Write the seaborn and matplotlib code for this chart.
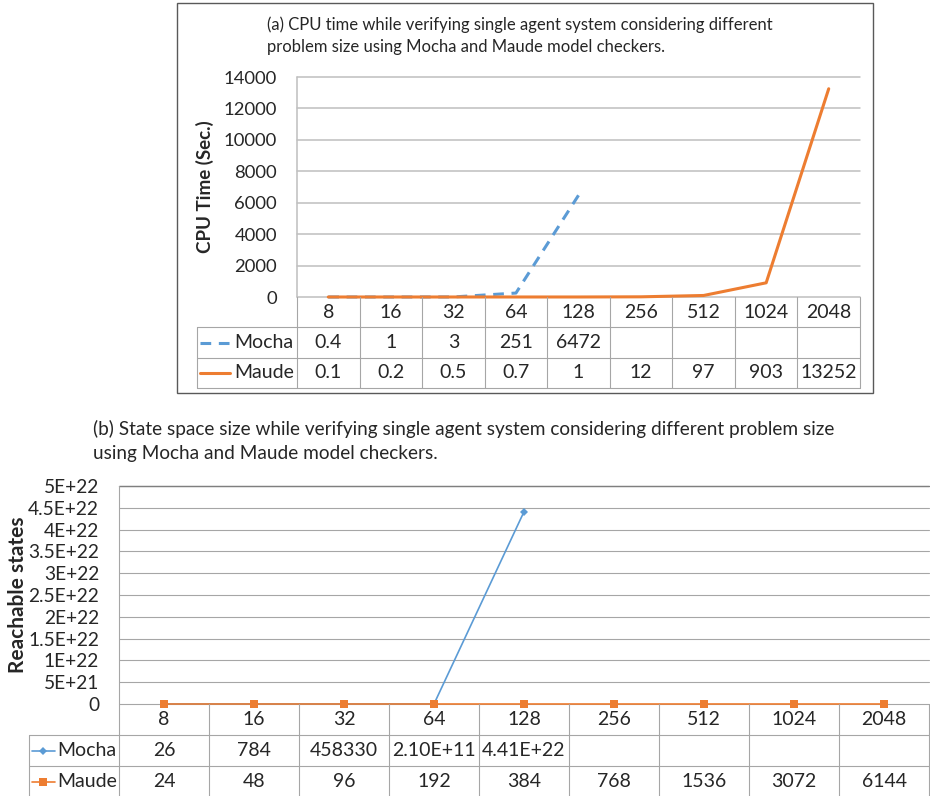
import matplotlib
matplotlib.use("Agg")
import matplotlib.pyplot as plt
from matplotlib.patches import Rectangle
import seaborn as sns

# problem sizes (shared by both panels)
sizes = ["8", "16", "32", "64", "128", "256", "512", "1024", "2048"]

# (a) CPU time in seconds
cpu_mocha = [0.4, 1, 3, 251, 6472]
cpu_maude = [0.1, 0.2, 0.5, 0.7, 1, 12, 97, 903, 13252]
cpu_mocha_text = ["0.4", "1", "3", "251", "6472"]
cpu_maude_text = ["0.1", "0.2", "0.5", "0.7", "1", "12", "97", "903", "13252"]
cpu_ticks = [0, 2000, 4000, 6000, 8000, 10000, 12000, 14000]

# (b) reachable states
states_mocha = [26, 784, 458330, 2.10e11, 4.41e22]
states_maude = [24, 48, 96, 192, 384, 768, 1536, 3072, 6144]
states_mocha_text = ["26", "784", "458330", "2.10E+11", "4.41E+22"]
states_maude_text = ["24", "48", "96", "192", "384", "768", "1536", "3072", "6144"]
state_ticks = [0, 5e21, 1e22, 1.5e22, 2e22, 2.5e22, 3e22, 3.5e22, 4e22, 4.5e22, 5e22]
state_tick_labels = ["0", "5E+21", "1E+22", "1.5E+22", "2E+22", "2.5E+22",
                     "3E+22", "3.5E+22", "4E+22", "4.5E+22", "5E+22"]

BLUE = "#5B9BD5"
ORANGE = "#ED7D31"
W, H = 930, 796

sns.set_style("white")
plt.rcParams["font.family"] = ["Lato", "DejaVu Sans"]

fig = plt.figure(figsize=(W / 100, H / 100), dpi=100)


def px_axes(left, top, right, bottom):
    """axes placed by pixel edges of the picture"""
    return fig.add_axes([left / W, 1 - bottom / H, (right - left) / W, (bottom - top) / H])


def px_text(x, y, s, **kw):
    fig.text(x / W, 1 - y / H, s, **kw)


def draw_table(ax, header_w, rows, fontsize, grid_color, name_frac, glyph):
    """Excel style data table under the chart, x in category units"""
    n = len(sizes)
    left = -0.5 - header_w
    ax.set_xlim(left, n - 0.5)
    ax.set_ylim(3, 0)
    ax.axis("off")
    kw = dict(color=grid_color, lw=0.8, clip_on=False)
    for y in (1, 2, 3):
        ax.plot([left, n - 0.5], [y, y], **kw)
    for k in range(n + 1):
        ax.plot([k - 0.5, k - 0.5], [0, 3], **kw)
    ax.plot([left, left], [1, 3], **kw)
    for i, s in enumerate(sizes):
        ax.text(i, 0.5, s, ha="center", va="center", fontsize=fontsize)
    for r, (name, texts, style, marker) in enumerate(rows):
        y = r + 1.5
        for i, s in enumerate(texts):
            ax.text(i, y, s, ha="center", va="center", fontsize=fontsize)
        x0 = left + glyph[0] * header_w
        x1 = left + glyph[1] * header_w
        ax.plot([x0, x1], [y, y], clip_on=False, **style)
        if marker:
            ax.plot([(x0 + x1) / 2], [y], clip_on=False, color=style["color"],
                    linestyle="none", markeredgewidth=0, **marker)
        ax.text(left + name_frac * header_w, y, name, ha="left", va="center",
                fontsize=fontsize)


# ---------------- panel (a) ----------------
fig.patches.append(Rectangle((177 / W, 1 - 393 / H), 696 / W, 390 / H,
                             transform=fig.transFigure, fill=False,
                             edgecolor="#595959", lw=1))
px_text(267, 25, "(a) CPU time while verifying single agent system considering different",
        fontsize=12, va="center")
px_text(267, 47, "problem size using Mocha and Maude model checkers.",
        fontsize=12, va="center")

ax1 = px_axes(297, 77, 860, 297)
for t in cpu_ticks:
    ax1.axhline(t, color="#BFBFBF", lw=1.1, clip_on=False, zorder=0)
ax1.axvline(-0.5, color="#BFBFBF", lw=1.1, clip_on=False, zorder=0)
sns.lineplot(x=list(range(len(cpu_mocha))), y=cpu_mocha, ax=ax1, color=BLUE,
             lw=2.2, linestyle=(0, (3.5, 2.5)), clip_on=False)
sns.lineplot(x=list(range(len(cpu_maude))), y=cpu_maude, ax=ax1, color=ORANGE,
             lw=2.2, clip_on=False)
ax1.set_xlim(-0.5, len(sizes) - 0.5)
ax1.set_ylim(0, 14000)
ax1.set_yticks(cpu_ticks)
ax1.set_xticks([])
ax1.tick_params(axis="y", length=0, pad=14.4, labelsize=13.3)
for sp in ax1.spines.values():
    sp.set_visible(False)
ax1.set_xlabel("")
ax1.set_ylabel("")
px_text(205, 187, "CPU Time (Sec.)", rotation=90, ha="center", va="center",
        fontsize=13.5, fontweight="bold")

tab1 = px_axes(197, 297, 860, 388)
draw_table(tab1, 100 / 62.56,
           [("Mocha", cpu_mocha_text, dict(color=BLUE, lw=2.2, linestyle=(0, (3.5, 2.5))), None),
            ("Maude", cpu_maude_text, dict(color=ORANGE, lw=2.2), None)],
           fontsize=14, grid_color="#A6A6A6", name_frac=0.37, glyph=(0.03, 0.33))

# ---------------- panel (b) ----------------
px_text(93, 429, "(b) State space size while verifying single agent system considering "
        "different problem size", fontsize=13.7, va="center")
px_text(93, 454, "using Mocha and Maude model checkers.", fontsize=13.7, va="center")

ax2 = px_axes(119, 486, 929, 704)
for t in state_ticks:
    ax2.axhline(t, color="#A6A6A6", lw=0.8, clip_on=False, zorder=0)
ax2.axhline(state_ticks[-1], color="#7F7F7F", lw=1.0, clip_on=False, zorder=0)
ax2.axvline(-0.5, color="#A6A6A6", lw=0.8, clip_on=False, zorder=0)
sns.lineplot(x=list(range(len(states_mocha))), y=states_mocha, ax=ax2, color=BLUE,
             lw=1.2, marker="D", markersize=4, markeredgewidth=0, clip_on=False)
sns.lineplot(x=list(range(len(states_maude))), y=states_maude, ax=ax2, color=ORANGE,
             lw=1.2, marker="s", markersize=6, markeredgewidth=0, clip_on=False)
ax2.set_xlim(-0.5, len(sizes) - 0.5)
ax2.set_ylim(0, 5e22)
ax2.set_yticks(state_ticks)
ax2.set_yticklabels(state_tick_labels)
ax2.set_xticks([])
ax2.tick_params(axis="y", length=0, pad=14.4, labelsize=13.8)
for sp in ax2.spines.values():
    sp.set_visible(False)
ax2.set_xlabel("")
ax2.set_ylabel("")
px_text(18, 595, "Reachable states", rotation=90, ha="center", va="center",
        fontsize=15, fontweight="bold")

tab2 = px_axes(29, 704, 929, 797)
draw_table(tab2, 1.0,
           [("Mocha", states_mocha_text, dict(color=BLUE, lw=1.2), dict(marker="D", markersize=4)),
            ("Maude", states_maude_text, dict(color=ORANGE, lw=1.2), dict(marker="s", markersize=6))],
           fontsize=14, grid_color="#A6A6A6", name_frac=0.31, glyph=(0.03, 0.29))

fig.savefig("out.png", dpi=100)
